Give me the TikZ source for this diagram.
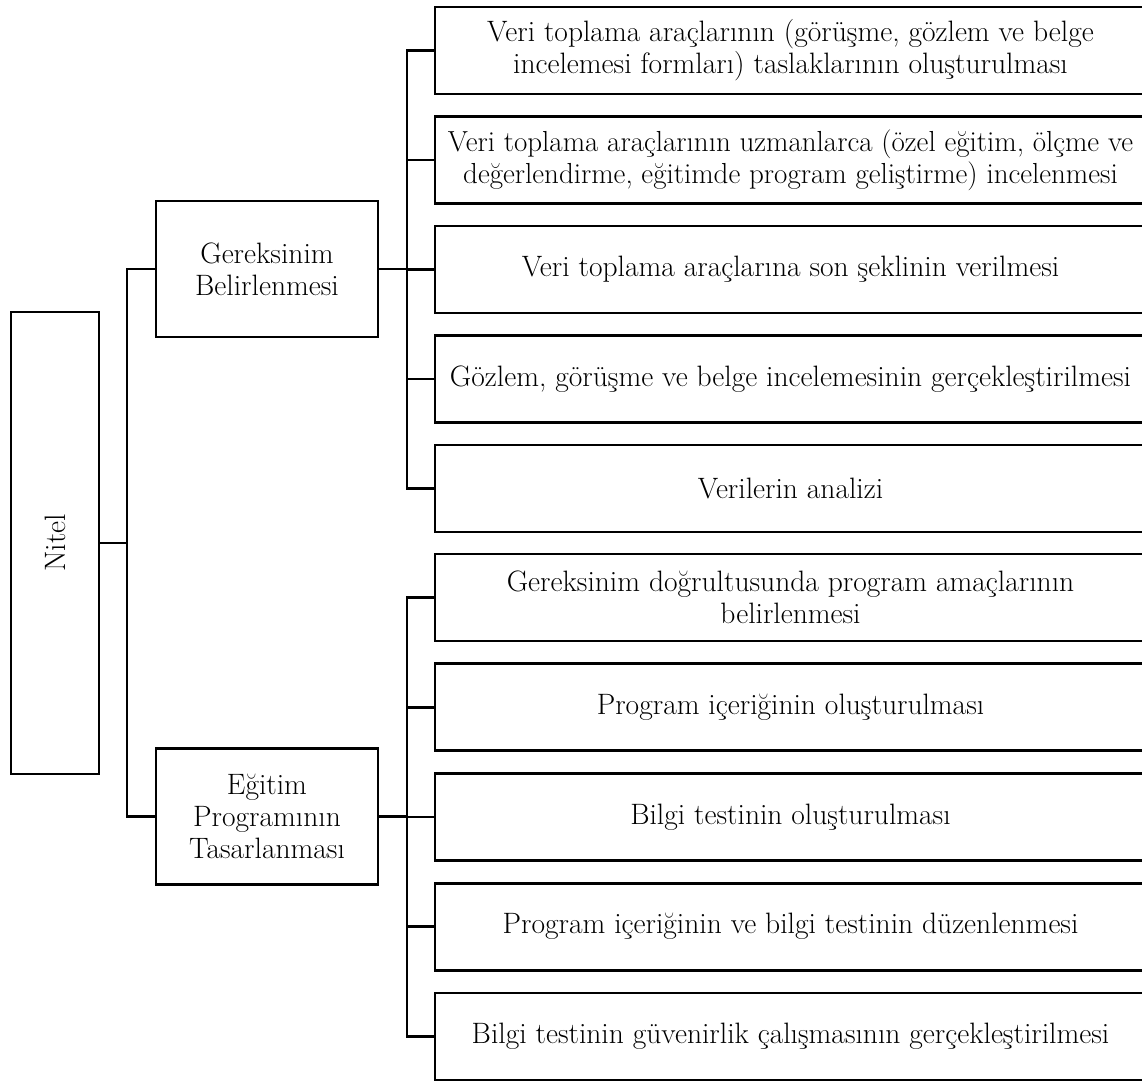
\documentclass[tikz,border=0pt]{standalone}
\begin{document}
\begin{tikzpicture}[x=1pt,y=-1pt,line width=2.9pt,
  box/.style={draw,line width=2.9pt,inner sep=0pt,align=center,
    font=\fontsize{29.5}{32}\selectfont},
  leaf/.style={box,minimum width=711,minimum height=87},
  mid/.style={box,minimum width=222,minimum height=136}]
\useasboundingbox (0,0) rectangle (1142,1081);
\clip (0,0) rectangle (1142,1081);
\node[box,minimum width=88,minimum height=462] (nitel) at (55,543) {\rotatebox{90}{Nitel}};
\node[mid] (ger) at (267,269) {Gereksinim\\Belirlenmesi};
\node[mid] (egt) at (267,816.5) {Eğitim\\Programının\\Tasarlanması};
\node[leaf] (a1) at (790.5,50.5) {Veri toplama araçlarının (görüşme, gözlem ve belge\\incelemesi formları) taslaklarının oluşturulması};
\node[leaf,font=\fontsize{29}{32}\selectfont] (a2) at (790.5,160) {Veri toplama araçlarının uzmanlarca (özel eğitim, ölçme ve\\değerlendirme, eğitimde program geliştirme) incelenmesi};
\node[leaf] (a3) at (790.5,269.5) {Veri toplama araçlarına son şeklinin verilmesi};
\node[leaf] (a4) at (790.5,379) {Gözlem, görüşme ve belge incelemesinin gerçekleştirilmesi};
\node[leaf] (a5) at (790.5,488.5) {Verilerin analizi};
\node[leaf] (b1) at (790.5,597.5) {Gereksinim doğrultusunda program amaçlarının\\belirlenmesi};
\node[leaf] (b2) at (790.5,707.25) {Program içeriğinin oluşturulması};
\node[leaf] (b3) at (790.5,817) {Bilgi testinin oluşturulması};
\node[leaf] (b4) at (790.5,926.75) {Program içeriğinin ve bilgi testinin düzenlenmesi};
\node[leaf] (b5) at (790.5,1036.5) {Bilgi testinin güvenirlik çalışmasının gerçekleştirilmesi};
\coordinate (j0) at (127,543);
\coordinate (j1) at (407,269);
\coordinate (j2) at (407,816.5);
\draw (nitel.east) -- (j0);
\draw (ger.west) -| (j0) |- (egt.west);
\draw (ger.east) -- (j1);
\draw (egt.east) -- (j2);
\foreach \i in {1,...,5} {
  \draw (a\i.west) -| (j1);
  \draw (b\i.west) -| (j2);
}
\end{tikzpicture}
\end{document}
